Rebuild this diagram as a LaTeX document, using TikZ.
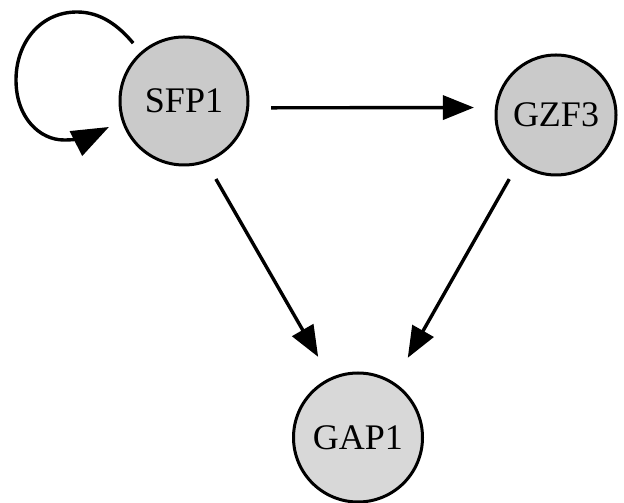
\documentclass[tikz,border=0pt]{standalone}
\usepackage{fontspec}
\setmainfont{Liberation Serif}
\usetikzlibrary{arrows.meta,calc}

\definecolor{genefill}{RGB}{202,202,202}
\definecolor{targetfill}{RGB}{216,216,216}

\tikzset{
  gene/.style={circle, draw=black, line width=3pt, inner sep=0pt,
    fill=genefill, font=\fontsize{36}{40}\selectfont},
  edge/.style={line width=3.4pt, -{Triangle[length=31pt,width=24pt]}},
  loopedge/.style={line width=3.4pt, -{Triangle[length=37pt,width=27pt]}},
}

\begin{document}
\begin{tikzpicture}[x=1pt,y=1pt]
  \useasboundingbox (0,0) rectangle (624,503);

  % genes
  \node[gene, minimum size=128pt] (sfp) at (184,402) {SFP1};
  \node[gene, minimum size=120pt] (gzf) at (556,388) {GZF3};
  \node[gene, minimum size=129pt, fill=targetfill] (gap) at (358,65.5) {GAP1};

  % regulatory edges
  \draw[edge, shorten <=22pt, shorten >=21pt] (sfp.-6.3) -- (gzf.173.3);
  \draw[edge, shorten <=19pt, shorten >=24pt] (sfp.-70.4) -- (gap.115.7);
  \draw[edge, shorten <=18pt, shorten >=28pt] (gzf.-128.1) -- (gap.57.3);

  % self-regulation loop on SFP1
  \coordinate (loopA) at ($(sfp.center)+(131.3:77)$);
  \coordinate (loopB) at ($(sfp.center)+(199.1:79.4)$);
  \draw[loopedge] (loopA) .. controls (118,478) and (100,491) .. (77,491)
    .. controls (40,491) and (16,460) .. (16,423)
    .. controls (16,385) and (40,363) .. (64,363)
    .. controls (82,363) and (92,367.5) .. (loopB);
\end{tikzpicture}
\end{document}
